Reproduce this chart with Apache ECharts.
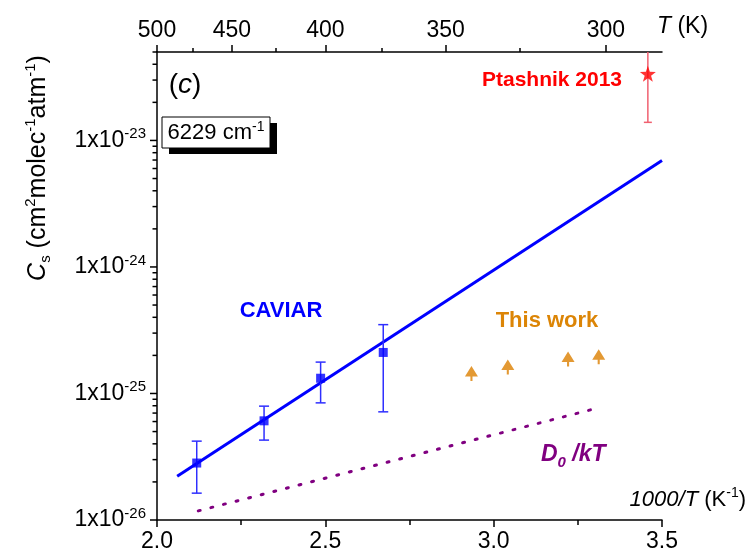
<!DOCTYPE html>
<html>
<head>
<meta charset="utf-8">
<script src="https://cdn.jsdelivr.net/npm/echarts@6/dist/echarts.min.js"></script>
<style>
  html, body { margin: 0; padding: 0; background: #fff; }
  #chart { width: 753px; height: 556px; }
</style>
</head>
<body>
<div id="chart"></div>
<script>
// Continuum coefficient Cs versus inverse temperature, band at 6229 cm-1

// CAVIAR measurements (x = 1000/T, value, lower and upper error limits)
const caviarX    = [2.118, 2.318, 2.486, 2.672];
const caviarY    = [2.82e-26, 6.08e-26, 1.32e-25, 2.11e-25];
const caviarLow  = [1.63e-26, 4.28e-26, 8.43e-26, 7.16e-26];
const caviarHigh = [4.20e-26, 7.94e-26, 1.77e-25, 3.50e-25];

// CAVIAR exponential fit (straight on log scale), end points
const fitX = [2.06, 3.5];
const fitY = [2.22e-26, 6.93e-24];

// D0/kT model curve, end points
const d0X = [2.1225, 3.311];
const d0Y = [1.18e-26, 7.7e-26];

// This work
const workX = [2.934, 3.042, 3.221, 3.312];
const workY = [1.44e-25, 1.62e-25, 1.87e-25, 1.95e-25];

// Ptashnik 2013 (value and symmetric error)
const ptX = [3.458];
const ptY = [3.36e-23];
const ptErr = [1.97e-23];

// Axis ticks
const bottomTicks = [2.0, 2.5, 3.0, 3.5];
const topTempsMajor = [500, 450, 400, 350, 300];
const topTempsMinor = [475, 425, 375, 325];
const yDecadeExps = [-26, -25, -24, -23];
const yMin = 1e-26, yMax = 5e-23;

const FONT = '"Liberation Sans", Arial, sans-serif';
const topMajorVals = topTempsMajor.map(t => 1000 / t);
const topMinorVals = topTempsMinor.map(t => 1000 / t);
const logMin = Math.log10(yMin), logMax = Math.log10(yMax);

// left-axis tick values: [value, 1 for decade / 0 for minor]
const yTickVals = [];
yDecadeExps.forEach(e => {
  yTickVals.push([Math.pow(10, e), 1]);
  for (let m = 2; m <= 9; m++) {
    const v = m * Math.pow(10, e);
    if (v <= yMax * 1.000001) yTickVals.push([v, 0]);
  }
});

const axisLineStyle = { color: '#000', width: 1.5 };

function errorBar(color, capHalf) {
  return function (params, api) {
    const x = api.value(0);
    const lo = api.coord([x, api.value(1)]);
    const hi = api.coord([x, api.value(2)]);
    const st = { stroke: color, lineWidth: 1.5 };
    return {
      type: 'group',
      children: [
        { type: 'line', shape: { x1: lo[0], y1: lo[1], x2: hi[0], y2: hi[1] }, style: st },
        { type: 'line', shape: { x1: lo[0] - capHalf, y1: lo[1], x2: lo[0] + capHalf, y2: lo[1] }, style: st },
        { type: 'line', shape: { x1: hi[0] - capHalf, y1: hi[1], x2: hi[0] + capHalf, y2: hi[1] }, style: st }
      ]
    };
  };
}

const chart = echarts.init(document.getElementById('chart'), null, { renderer: 'canvas' });

const textGraphics = [
  // y-axis title
  {
    type: 'text', x: 38, y: 168, rotation: Math.PI / 2,
    style: {
      text: '{i|C}{sub|s}{n| (cm}{sup|2}{n|molec}{sup|-1}{n|atm}{sup|-1}{n|)}',
      align: 'center', verticalAlign: 'middle',
      rich: {
        i: { fontSize: 25, fontStyle: 'italic', fontFamily: FONT, fill: '#000', lineHeight: 30, verticalAlign: 'middle' },
        n: { fontSize: 25, fontFamily: FONT, fill: '#000', lineHeight: 30, verticalAlign: 'middle' },
        sup: { fontSize: 15, fontFamily: FONT, fill: '#000', lineHeight: 30, verticalAlign: 'top' },
        sub: { fontSize: 15, fontFamily: FONT, fill: '#000', lineHeight: 30, verticalAlign: 'bottom' }
      }
    }
  },
  // x-axis title
  {
    type: 'text', x: 746, y: 500,
    style: {
      text: '{i|1000/T}{n| (K}{sup|-1}{n|)}',
      align: 'right', verticalAlign: 'middle',
      rich: {
        i: { fontSize: 22, fontStyle: 'italic', fontFamily: FONT, fill: '#000', lineHeight: 28, verticalAlign: 'middle' },
        n: { fontSize: 22, fontFamily: FONT, fill: '#000', lineHeight: 28, verticalAlign: 'middle' },
        sup: { fontSize: 14, fontFamily: FONT, fill: '#000', lineHeight: 28, verticalAlign: 'top' }
      }
    }
  },
  // top axis title
  {
    type: 'text', x: 657, y: 27,
    style: {
      text: '{i|T}{n| (K)}',
      align: 'left', verticalAlign: 'middle',
      rich: {
        i: { fontSize: 23, fontStyle: 'italic', fontFamily: FONT, fill: '#000', lineHeight: 28, verticalAlign: 'middle' },
        n: { fontSize: 23, fontFamily: FONT, fill: '#000', lineHeight: 28, verticalAlign: 'middle' }
      }
    }
  },
  // panel letter
  {
    type: 'text', x: 185, y: 85,
    style: {
      text: '{n|(}{i|c}{n|)}',
      align: 'center', verticalAlign: 'middle',
      rich: {
        i: { fontSize: 28, fontStyle: 'italic', fontFamily: FONT, fill: '#000', lineHeight: 32, verticalAlign: 'middle' },
        n: { fontSize: 28, fontFamily: FONT, fill: '#000', lineHeight: 32, verticalAlign: 'middle' }
      }
    }
  },
  // band box with drop shadow
  { type: 'rect', shape: { x: 169, y: 123, width: 108, height: 31 }, style: { fill: '#000' }, z: 10 },
  { type: 'rect', shape: { x: 162, y: 117, width: 108, height: 31 }, style: { fill: '#fff', stroke: '#000', lineWidth: 1 }, z: 11 },
  {
    type: 'text', x: 216, y: 133, z: 12,
    style: {
      text: '{n|6229 cm}{sup|-1}',
      align: 'center', verticalAlign: 'middle',
      rich: {
        n: { fontSize: 22, fontFamily: FONT, fill: '#000', lineHeight: 26, verticalAlign: 'middle' },
        sup: { fontSize: 14, fontFamily: FONT, fill: '#000', lineHeight: 26, verticalAlign: 'top' }
      }
    }
  },
  // series labels
  {
    type: 'text', x: 552, y: 80,
    style: { text: 'Ptashnik 2013', fill: '#ff0000', font: 'bold 21px ' + FONT, align: 'center', verticalAlign: 'middle' }
  },
  {
    type: 'text', x: 281, y: 311,
    style: { text: 'CAVIAR', fill: '#0000ff', font: 'bold 22px ' + FONT, align: 'center', verticalAlign: 'middle' }
  },
  {
    type: 'text', x: 547, y: 321,
    style: { text: 'This work', fill: '#dc8506', font: 'bold 22px ' + FONT, align: 'center', verticalAlign: 'middle' }
  },
  {
    type: 'text', x: 541, y: 455,
    style: {
      text: '{d|D}{s|0}{d| /kT}',
      align: 'left', verticalAlign: 'middle',
      rich: {
        d: { fontSize: 23, fontWeight: 'bold', fontStyle: 'italic', fontFamily: FONT, fill: '#800080', lineHeight: 30, verticalAlign: 'middle' },
        s: { fontSize: 15, fontWeight: 'bold', fontStyle: 'italic', fontFamily: FONT, fill: '#800080', lineHeight: 30, verticalAlign: 'bottom' }
      }
    }
  }
];

const option = {
  animation: false,
  backgroundColor: '#fff',
  grid: { left: 157, right: 91, top: 52, bottom: 36, containLabel: false },
  xAxis: [
    {
      type: 'value', position: 'bottom', min: 2, max: 3.5, interval: 0.5,
      axisLine: { show: true, onZero: false, lineStyle: axisLineStyle },
      axisTick: { show: true, inside: false, length: 7, lineStyle: axisLineStyle },
      minorTick: { show: true, splitNumber: 2, length: 5, lineStyle: axisLineStyle },
      axisLabel: {
        customValues: bottomTicks,
        formatter: v => v.toFixed(1), fontSize: 23, color: '#000', fontFamily: FONT, margin: 10
      },
      splitLine: { show: false }
    },
    {
      type: 'value', position: 'top', min: 2, max: 3.5,
      axisLine: { show: true, onZero: false, lineStyle: axisLineStyle },
      axisTick: { show: true, inside: false, length: 7, customValues: topMajorVals, lineStyle: axisLineStyle },
      axisLabel: {
        customValues: topMajorVals,
        formatter: v => String(Math.round(1000 / v)), fontSize: 23, color: '#000', fontFamily: FONT, margin: 10
      },
      splitLine: { show: false }
    },
    {
      type: 'value', position: 'top', min: 2, max: 3.5,
      axisLine: { show: false, onZero: false },
      axisTick: { show: true, inside: false, length: 4, customValues: topMinorVals, lineStyle: axisLineStyle },
      axisLabel: { show: false },
      splitLine: { show: false }
    }
  ],
  yAxis: [
    {
      // logarithmic data axis
      type: 'log', logBase: 10, min: yMin, max: yMax, position: 'left',
      axisLine: { show: true, onZero: false, lineStyle: axisLineStyle },
      axisTick: { show: false },
      axisLabel: { show: false },
      splitLine: { show: false }
    },
    {
      // decade labels, in log10 units over the same span
      type: 'value', min: logMin, max: logMax, position: 'left',
      axisLine: { show: false, onZero: false },
      axisTick: { show: false },
      axisLabel: {
        customValues: yDecadeExps,
        margin: 11,
        formatter: v => '{b|1x10}{s|' + Math.round(v) + '}',
        rich: {
          b: { fontSize: 23, color: '#000', fontFamily: FONT, lineHeight: 28, verticalAlign: 'middle' },
          s: { fontSize: 15, color: '#000', fontFamily: FONT, lineHeight: 28, verticalAlign: 'top' }
        }
      },
      splitLine: { show: false }
    }
  ],
  series: [
    {
      name: 'CAVIAR fit', type: 'line', xAxisIndex: 0, yAxisIndex: 0,
      data: fitX.map((x, i) => [x, fitY[i]]),
      symbol: 'none', lineStyle: { color: '#0000ff', width: 3 }, z: 3
    },
    {
      name: 'D0/kT', type: 'line', xAxisIndex: 0, yAxisIndex: 0,
      data: d0X.map((x, i) => [x, d0Y[i]]),
      symbol: 'none',
      lineStyle: { color: '#800080', width: 3, type: [2, 11], cap: 'round' }, z: 3
    },
    {
      name: 'CAVIAR error', type: 'custom', xAxisIndex: 0, yAxisIndex: 0,
      data: caviarX.map((x, i) => [x, caviarLow[i], caviarHigh[i]]),
      encode: { x: 0, y: [1, 2] },
      renderItem: errorBar('#2f2fff', 5), clip: true, z: 4
    },
    {
      name: 'CAVIAR', type: 'scatter', xAxisIndex: 0, yAxisIndex: 0,
      data: caviarX.map((x, i) => [x, caviarY[i]]),
      symbol: 'rect', symbolSize: 9, itemStyle: { color: '#0000ff' }, z: 5
    },
    {
      name: 'This work', type: 'scatter', xAxisIndex: 0, yAxisIndex: 0,
      data: workX.map((x, i) => [x, workY[i]]),
      symbol: 'path://M5,0 L10,8.4 L0,8.4 Z M4.2,8.4 L5.8,8.4 L5.8,12 L4.2,12 Z',
      symbolSize: [13, 15], itemStyle: { color: '#dc8000' }, z: 5
    },
    {
      name: 'Ptashnik error', type: 'custom', xAxisIndex: 0, yAxisIndex: 0,
      data: ptX.map((x, i) => [x, ptY[i] - ptErr[i], ptY[i] + ptErr[i]]),
      encode: { x: 0, y: [1, 2] },
      renderItem: errorBar('#f06070', 4), clip: true, z: 4
    },
    {
      name: 'Ptashnik 2013', type: 'scatter', xAxisIndex: 0, yAxisIndex: 0,
      data: ptX.map((x, i) => [x, ptY[i]]),
      symbol: 'path://M50,0 L61.8,33.8 L97.6,34.5 L69,56.2 L79.4,90.5 L50,70 L20.6,90.5 L31,56.2 L2.4,34.5 L38.2,33.8 Z',
      symbolSize: 16, itemStyle: { color: '#ff0000' }, z: 5
    }
  ],
  graphic: textGraphics
};

chart.setOption(option);

// outward tick marks on the left log axis, placed through the log scale
const tickGraphics = yTickVals.map(t => {
  const p = chart.convertToPixel({ xAxisIndex: 0, yAxisIndex: 0 }, [bottomTicks[0], t[0]]);
  const len = t[1] ? 7 : 4.5;
  return {
    type: 'line', z: 20,
    shape: { x1: p[0] - len, y1: p[1], x2: p[0], y2: p[1] },
    style: { stroke: '#000', lineWidth: 1.5 }
  };
});
chart.setOption({ graphic: textGraphics.concat(tickGraphics) });
</script>
</body>
</html>
